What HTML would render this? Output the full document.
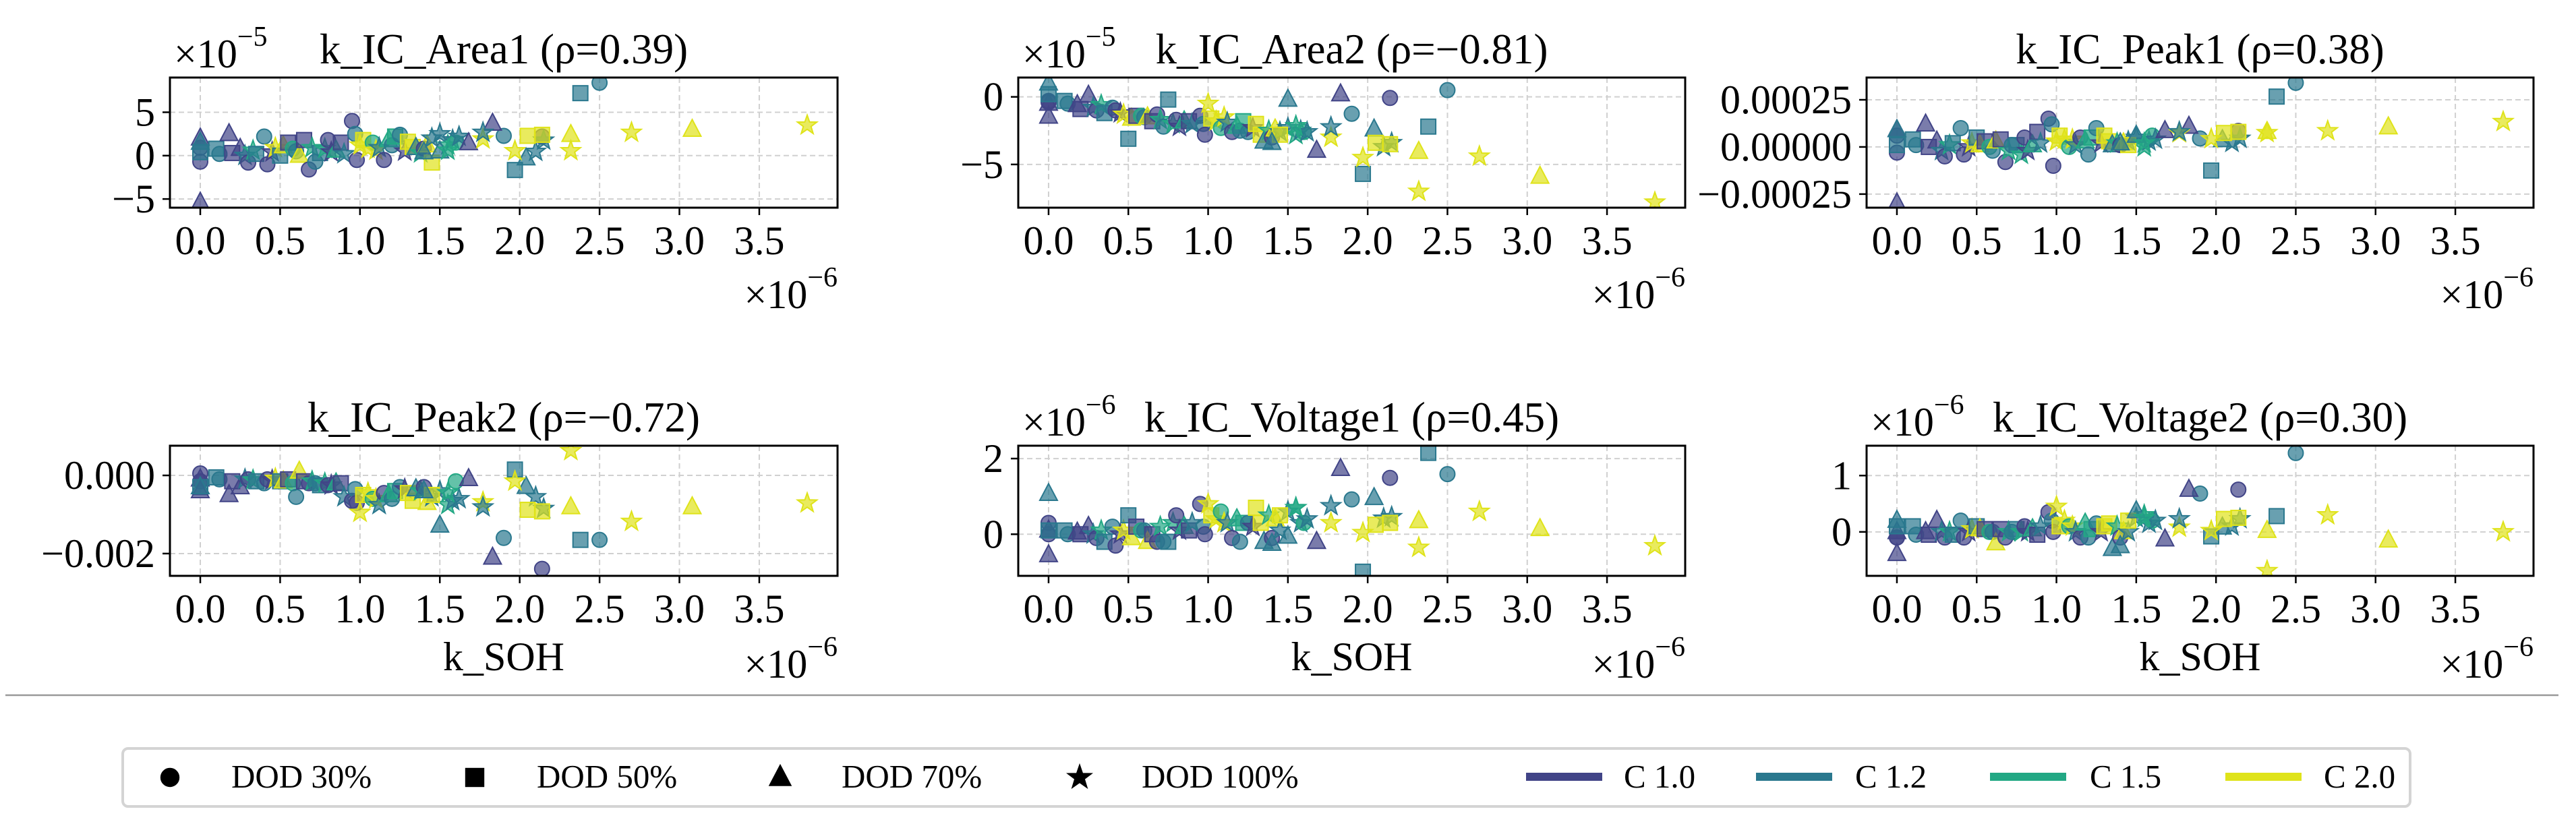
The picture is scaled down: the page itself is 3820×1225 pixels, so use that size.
<!DOCTYPE html>
<html><head><meta charset="utf-8"><style>
html,body{margin:0;padding:0;background:#fff;}
svg{display:block;}
svg text{font-family:"Liberation Serif","DejaVu Serif",serif;}
</style></head><body>
<svg id="fig" width="3820" height="1225" viewBox="0 0 3820 1225" xmlns="http://www.w3.org/2000/svg" font-family="Liberation Serif, serif"></svg>
<script>
// shared x (k_SOH, units 1e-6)
const kSOH=[0,0,0,0,0.10,0.12,0.18,0.20,0.25,0.28,0.30,0.33,0.35,0.40,0.42,0.45,0.47,0.50,0.52,0.55,0.58,0.60,0.62,0.65,0.68,0.70,0.72,0.75,0.78,0.80,0.82,0.85,0.88,0.90,0.95,0.97,0.98,1.00,1.02,1.05,1.08,1.10,1.12,1.15,1.18,1.20,1.22,1.25,1.28,1.30,1.33,1.35,1.38,1.40,1.42,1.45,1.50,1.55,1.58,1.60,1.62,1.45,3.80,3.08,2.70,2.32,2.32,2.50,2.38,1.97,1.90,2.14,1.83,1.68,2.04,2.10,2.15,2.05,2.14,1.77,1.77,1.97,0,0,1.50,1.55,1.40];
const dodIdx=[0,0,2,1,1,0,2,1,2,3,0,3,1,0,0,3,3,1,2,1,0,0,2,1,0,3,0,1,3,0,3,2,1,3,0,0,0,3,1,3,0,3,3,0,2,0,1,0,3,1,1,2,3,0,2,3,3,3,3,0,3,1,3,2,3,2,3,0,1,1,0,0,2,2,2,3,3,1,1,3,3,3,2,2,2,3,2];
const cIdx=[0,0,0,1,1,1,0,0,0,1,0,2,1,1,0,0,3,1,3,0,2,1,3,0,0,2,1,1,2,0,0,2,0,1,0,1,0,3,3,3,2,3,1,0,2,1,2,1,0,3,3,1,2,0,3,1,1,2,1,2,1,3,3,3,3,3,3,1,1,1,1,0,0,0,1,1,1,3,3,3,1,3,0,1,1,2,1];
const yArea1=[0.9,-0.7,2.0,0.4,0.8,0.2,2.5,0.3,0.8,0.0,-0.8,0.6,0.2,2.2,-1.0,0.4,0.9,0.0,1.1,1.5,0.8,0.5,0.0,1.8,-1.6,0.9,-0.7,0.3,0.8,1.8,0.4,0.6,1.5,0.2,4.0,2.5,-0.5,1.2,1.8,0.8,1.5,0.6,0.9,-0.5,1.8,1.2,2.2,2.4,0.5,1.6,1.0,0.9,0.3,0.8,1.2,2.0,2.5,1.2,1.8,1.5,2.2,-0.8,3.5,3.0,2.67,2.4,0.55,8.4,7.2,-1.66,2.28,2.2,3.7,1.45,-0.3,0.47,1.76,2.28,2.4,1.9,2.67,0.55,-5.4,1.5,0.5,0.6,0.4];
const yArea2=[-0.3,-0.4,-0.5,0.2,-0.3,-0.5,-0.6,-0.9,0.1,-0.8,-1.0,-0.6,-1.2,-0.8,-1.0,-1.2,-1.3,-3.1,-1.6,-1.4,-1.4,-1.5,-1.5,-1.8,-1.3,-1.7,-2.2,-0.2,-2.0,-1.7,-2.2,-1.8,-1.8,-2.0,-1.4,-2.0,-2.8,-0.5,-1.6,-1.8,-2.3,-1.5,-1.9,-2.6,-2.2,-2.5,-1.8,-2.6,-2.3,-2.0,-2.8,-3.3,-2.5,-3.0,-2.4,-2.6,-2.3,-2.8,-2.5,-2.6,-2.6,-2.8,-7.8,-5.9,-4.4,-4.06,-7.0,0.5,-2.2,-5.7,-1.25,-0.08,0.2,-3.98,-2.4,-3.7,-3.4,-3.4,-3.5,-3.0,-2.23,-4.5,-1.45,1.0,-0.2,-2.15,-3.4];
const yPeak1=[0.6,-0.3,0.9,0.1,0.4,0.1,1.2,0.0,0.3,-0.2,-0.5,0.1,0.2,1.0,-0.4,0.0,0.2,0.5,0.1,0.3,0.0,-0.2,0.3,0.4,-0.8,-0.2,0.1,0.1,-0.4,0.5,-0.2,0.1,0.8,0.2,1.5,1.2,-1.0,0.3,0.6,0.4,0.0,0.4,0.1,0.5,0.3,-0.4,0.5,1.0,0.2,0.6,0.3,0.1,0.2,0.1,0.2,0.3,0.5,0.0,0.3,0.6,0.4,0.1,1.34,1.05,0.85,0.8,0.75,3.4,2.67,-1.25,0.45,0.85,1.08,0.85,0.37,0.23,0.45,0.74,0.8,0.74,0.8,0.43,-2.98,0.9,0.6,0.2,0.2];
const yPeak2=[0.05,-0.15,-0.1,-0.3,-0.05,-0.1,-0.5,-0.15,-0.3,-0.1,-0.1,-0.12,-0.15,-0.2,-0.1,-0.12,-0.08,-0.15,-0.15,-0.1,-0.2,-0.55,0.1,-0.15,-0.2,-0.15,-0.2,-0.25,-0.2,-0.25,-0.25,-0.2,-0.2,-0.55,-0.65,-0.35,-0.7,-0.95,-0.5,-0.45,-0.6,-0.6,-0.75,-0.45,-0.5,-0.6,-0.4,-0.3,-0.35,-0.45,-0.65,-0.35,-0.4,-0.3,-0.7,-0.55,-0.4,-0.75,-0.65,-0.15,-0.6,-0.5,-0.71,-0.81,-1.18,-0.81,0.63,-1.65,-1.65,0.15,-1.6,-2.39,-2.1,-0.09,-0.29,-0.55,-0.85,-0.88,-0.92,-0.68,-0.81,-0.15,-0.4,-0.3,-1.28,-0.45,-0.4];
const yVolt1=[0.3,0.0,0.1,0.1,0.1,0.0,0.05,0.0,0.2,0.0,-0.1,0.1,-0.2,0.2,-0.3,0.0,0.1,0.5,-0.1,0.2,0.1,0.1,-0.2,0.0,-0.2,0.2,-0.2,-0.2,0.3,0.5,0.1,0.2,0.1,0.3,0.8,0.2,0.0,0.8,0.5,0.4,0.6,0.3,0.3,-0.1,0.4,-0.2,0.3,0.3,0.2,0.7,0.3,-0.2,0.5,-0.1,0.4,0.1,0.6,0.7,0.3,0.3,0.4,0.5,-0.31,0.14,0.6,0.35,-0.35,1.59,2.15,-0.99,0.92,1.49,1.73,-0.2,0.96,0.42,0.46,0.25,0.3,0.3,0.75,0.04,-0.55,1.07,-0.06,0.7,-0.25];
const yVolt2=[-0.1,-0.1,0.0,0.1,0.1,-0.05,0.0,-0.05,0.2,0.0,-0.1,0.0,-0.05,0.2,-0.1,0.0,0.05,0.1,0.05,0.05,0.0,0.0,-0.2,0.05,-0.1,0.0,0.0,0.05,0.0,0.1,0.0,0.05,-0.05,0.1,0.35,0.2,0.0,0.45,0.1,0.2,0.1,0.1,0.0,-0.1,0.15,-0.1,0.05,0.15,0.0,0.1,0.15,-0.3,0.1,-0.1,0.0,0.0,0.25,0.3,0.15,0.2,0.2,0.2,0.0,-0.15,0.3,0.02,-0.69,1.4,0.28,-0.08,0.68,0.75,0.75,-0.13,0.08,0.1,0.23,0.23,0.25,0.08,0.23,0.02,-0.39,0.2,0.37,0.25,-0.25];
const xTicks=[0,0.5,1.0,1.5,2.0,2.5,3.0,3.5];
const xTickLabels=["0.0","0.5","1.0","1.5","2.0","2.5","3.0","3.5"];
const dodLabels=["DOD 30%","DOD 50%","DOD 70%","DOD 100%"];
const cLabels=["C 1.0","C 1.2","C 1.5","C 2.0"];
const cColors=["#414487","#2a788e","#22a884","#dfe31a"];

const NS="http://www.w3.org/2000/svg";
const svg=document.getElementById('fig');
const FONT='"Liberation Serif", "DejaVu Serif", serif';
function mk(tag,attrs,parent){const e=document.createElementNS(NS,tag);for(const k in attrs)e.setAttribute(k,attrs[k]);if(tag==='text'){e.style.fontFamily=FONT;}(parent||svg).appendChild(e);return e;}

const panels=[
 {name:"area1",L:252,R:1242,T:115,B:308,ylim:[-6,9],yt:[-5,0,5],ytl:["−5","0","5"],ys:yArea1,off:"−5",title:"k_IC_Area1 (ρ=0.39)",xl:false},
 {name:"area2",L:1510,R:2499,T:115,B:308,ylim:[-8.2,1.43],yt:[-5,0],ytl:["−5","0"],ys:yArea2,off:"−5",title:"k_IC_Area2 (ρ=−0.81)",xl:false},
 {name:"peak1",L:2768,R:3757,T:115,B:308,ylim:[-3.22,3.68],yt:[-2.5,0,2.5],ytl:["−0.00025","0.00000","0.00025"],ys:yPeak1,off:null,title:"k_IC_Peak1 (ρ=0.38)",xl:false},
 {name:"peak2",L:252,R:1242,T:661,B:854,ylim:[-2.57,0.76],yt:[-2,0],ytl:["−0.002","0.000"],ys:yPeak2,off:null,title:"k_IC_Peak2 (ρ=−0.72)",xl:true},
 {name:"voltage1",L:1510,R:2499,T:661,B:854,ylim:[-1.1,2.34],yt:[0,2],ytl:["0","2"],ys:yVolt1,off:"−6",title:"k_IC_Voltage1 (ρ=0.45)",xl:true},
 {name:"voltage2",L:2768,R:3757,T:661,B:854,ylim:[-0.78,1.53],yt:[0,1],ytl:["0","1"],ys:yVolt2,off:"−6",title:"k_IC_Voltage2 (ρ=0.30)",xl:true}
];
const XLIM=[-0.19,3.99];

function starPath(cx,cy,R){let d="";const r=R*0.4;for(let i=0;i<10;i++){const a=-Math.PI/2+i*Math.PI/5;const rr=i%2?r:R;d+=(i?"L":"M")+(cx+rr*Math.cos(a)).toFixed(1)+","+(cy+rr*Math.sin(a)).toFixed(1);}return d+"Z";}
function marker(g,dod,cx,cy,col,op,sc){
  let e;
  if(dod===0){e=mk('circle',{cx:cx,cy:cy,r:11*sc},g);}
  else if(dod===1){const s=22*sc;e=mk('rect',{x:cx-s/2,y:cy-s/2,width:s,height:s},g);}
  else if(dod===2){const h=13*sc;e=mk('path',{d:`M${cx},${cy-h*1.15}L${cx+h},${cy+h*0.75}L${cx-h},${cy+h*0.75}Z`},g);}
  else {e=mk('path',{d:starPath(cx,cy,15*sc)},g);}
  e.setAttribute('fill',col);e.setAttribute('fill-opacity',op);
  e.setAttribute('stroke',col);e.setAttribute('stroke-width',2);
  return e;
}

panels.forEach((p,pi)=>{
  const g=mk('g',{});
  
  
  const sx=v=>p.L+(v-XLIM[0])/(XLIM[1]-XLIM[0])*(p.R-p.L);
  const sy=v=>p.B-(v-p.ylim[0])/(p.ylim[1]-p.ylim[0])*(p.B-p.T);
  xTicks.forEach(t=>{const l=mk('line',{x1:sx(t),x2:sx(t),y1:p.T,y2:p.B,stroke:"#d0d0d0","stroke-width":2,"stroke-dasharray":"8,5"},g);});
  p.yt.forEach(t=>{const l=mk('line',{x1:p.L,x2:p.R,y1:sy(t),y2:sy(t),stroke:"#d0d0d0","stroke-width":2,"stroke-dasharray":"8,5"},g);});
  const cp=mk('clipPath',{id:'clip'+pi},g);mk('rect',{x:p.L,y:p.T,width:p.R-p.L,height:p.B-p.T},cp);
  const mg=mk('g',{'clip-path':`url(#clip${pi})`},g);
  
  
  for(let i=0;i<kSOH.length;i++){
    const m=marker(mg,dodIdx[i],sx(kSOH[i]),sy(p.ys[i]),cColors[cIdx[i]],0.7,1);
    
    
  }
  const fr=mk('rect',{x:p.L,y:p.T,width:p.R-p.L,height:p.B-p.T,fill:"none",stroke:"#000","stroke-width":3},g);
  
  xTicks.forEach((t,k)=>{
    mk('line',{x1:sx(t),x2:sx(t),y1:p.B,y2:p.B+11,stroke:"#000","stroke-width":2.5},g);
    const tx=mk('text',{x:sx(t),y:p.B+69,"font-size":60,"text-anchor":"middle",fill:"#000"},g);tx.textContent=xTickLabels[k];
    
  });
  p.yt.forEach((t,k)=>{
    mk('line',{x1:p.L-11,x2:p.L,y1:sy(t),y2:sy(t),stroke:"#000","stroke-width":2.5},g);
    const tx=mk('text',{x:p.L-22,y:sy(t)+20,"font-size":60,"text-anchor":"end",fill:"#000"},g);tx.textContent=p.ytl[k];
    
  });
  const ti=mk('text',{x:(p.L+p.R)/2,y:p.T-21,"font-size":63,"text-anchor":"middle",fill:"#000"},g);ti.textContent=p.title;
  
  if(p.off){
    const ot=mk('text',{x:p.L+6,y:p.T-15,"font-size":60,fill:"#000"},g);
    
    ot.innerHTML='×10<tspan dy="-32" font-size="42">'+p.off+'</tspan>';
  }
  const xo=mk('text',{x:p.R,y:p.B+(p.xl?151:149),"font-size":60,"text-anchor":"end",fill:"#000"},g);
  
  xo.innerHTML='×10<tspan dy="-32" font-size="42">−6</tspan>';
  if(p.xl){const xl=mk('text',{x:(p.L+p.R)/2,y:p.B+140,"font-size":60,"text-anchor":"middle",fill:"#000"},g);xl.textContent="k_SOH";
    }
});

const sep=mk('line',{x1:8,x2:3794,y1:1031,y2:1031,stroke:"#999","stroke-width":2.5});


const lg=mk('g',{});


mk('rect',{x:182,y:1110,width:3392,height:86,rx:8,fill:"#fff",stroke:"#d4d4d4","stroke-width":4},lg);
const dodMX=[252,704,1157,1601],dodTX=[343,796,1248,1693];
dodLabels.forEach((lab,k)=>{
  const e=mk('g',{},lg);
  
  
  marker(e,k,dodMX[k],1153,"#000",1,1.2);
  const t=mk('text',{x:dodTX[k],y:1168,"font-size":49,fill:"#000"},e);t.textContent=lab;
});
const cLX=[2263,2604,2951,3300],cTX=[2408,2751,3099,3446];
cLabels.forEach((lab,k)=>{
  const e=mk('g',{},lg);
  
  
  mk('line',{x1:cLX[k],x2:cLX[k]+113,y1:1152,y2:1152,stroke:cColors[k],"stroke-width":12},e);
  const t=mk('text',{x:cTX[k],y:1168,"font-size":49,fill:"#000"},e);t.textContent=lab;
});
</script>
</body></html>
